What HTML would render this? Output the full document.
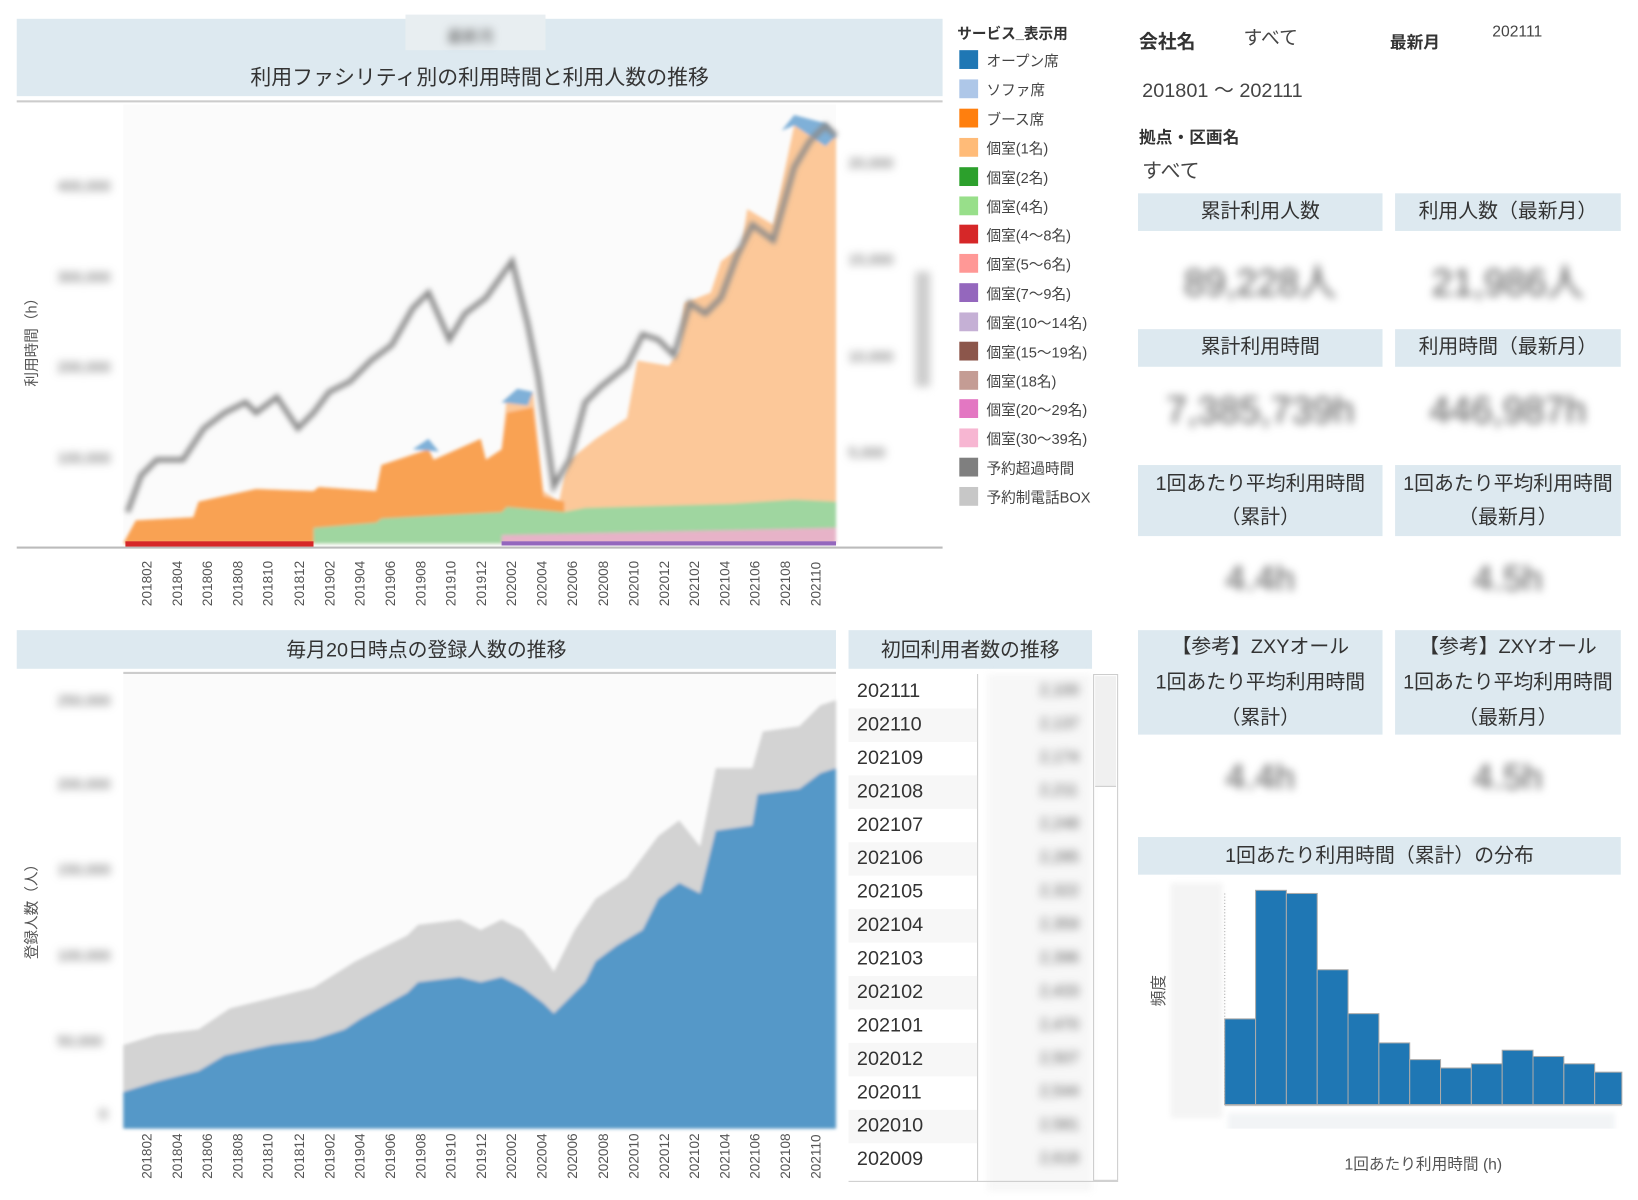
<!DOCTYPE html>
<html><head><meta charset="utf-8"><style>
html,body{margin:0;padding:0;background:#fff;width:1638px;height:1200px;overflow:hidden}
#w{position:absolute;left:0;top:0;width:1568px;height:1148px;transform:scale(1.045);transform-origin:0 0;font-family:"Liberation Sans","Noto Sans CJK JP",sans-serif;color:#333}
.a{position:absolute;white-space:nowrap}
.hb{position:absolute;background:#dde9f0;text-align:center;color:#333;font-size:19px}
.bl{filter:blur(4px);color:#555}
.lg{position:absolute;left:918px;font-size:14px;color:#444}
.lg i{position:absolute;left:0;top:0;width:18px;height:18px}
.lg span{position:absolute;left:26px;top:0;white-space:nowrap}
.xl{position:absolute;transform:rotate(-90deg);transform-origin:0 0;font-size:13px;color:#555}
.tr{position:absolute;left:812px;width:123px;height:32px;font-size:19px;line-height:32px;padding-left:8px;box-sizing:border-box}
</style></head><body><div id="w">

<div class="hb" style="left:16px;top:18px;width:886px;height:74px"></div>
<div class="a" style="left:388px;top:14px;width:134px;height:34px;background:#e8eef1"></div>
<div class="a bl" style="left:428px;top:24px;font-size:15px">最新月</div>
<div class="a" style="left:16px;top:58px;width:886px;text-align:center;font-size:20px">利用ファシリティ別の利用時間と利用人数の推移</div>
<div class="a" style="left:16px;top:96px;width:886px;height:2px;background:#ccc"></div>
<div class="a" style="left:16px;top:523px;width:886px;height:2px;background:#bbb"></div>
<div class="a" style="left:20px;top:370px;transform:rotate(-90deg);transform-origin:0 0;font-size:14px;color:#555">利用時間（h）</div>
<div class="a bl" style="left:55px;top:170px;font-size:14px">400,000</div>
<div class="a bl" style="left:55px;top:257px;font-size:14px">300,000</div>
<div class="a bl" style="left:55px;top:343px;font-size:14px">200,000</div>
<div class="a bl" style="left:55px;top:430px;font-size:14px">100,000</div>
<div class="a bl" style="left:812px;top:148px;font-size:14px">20,000</div>
<div class="a bl" style="left:812px;top:240px;font-size:14px">15,000</div>
<div class="a bl" style="left:812px;top:333px;font-size:14px">10,000</div>
<div class="a bl" style="left:812px;top:425px;font-size:14px">5,000</div>
<div class="a bl" style="left:876px;top:260px;width:14px;height:110px;background:#ccc"></div>

<svg class="a" style="left:0;top:0" width="910" height="1143">
<defs><filter id="b"><feGaussianBlur stdDeviation="2.5"/></filter><filter id="b2"><feGaussianBlur stdDeviation="1.5"/></filter></defs>
<rect x="118" y="100" width="682" height="422" fill="#fbfbfb"/>
<g filter="url(#b2)">
<polygon fill="#fcc899" points="118,520 130,498 185,495 190,480 245,468 300,470 305,466 360,470 365,445 410,430 415,440 460,420 465,440 480,430 485,380 510,375 520,470 535,480 540,455 545,440 570,420 600,400 610,345 640,350 650,335 655,290 680,280 690,250 710,235 715,200 740,215 760,120 790,140 800,130 800,520"/>
<polygon fill="#f9a253" points="118,520 130,498 185,495 190,480 245,468 300,470 305,466 360,470 365,445 410,430 415,440 460,420 465,440 480,430 485,395 510,390 520,475 540,480 540,520"/>
<polygon fill="#9fd6a0" points="300,520 300,505 360,500 365,496 480,490 485,485 540,490 560,486 700,482 760,478 800,480 800,520"/>
<polygon fill="#e7b3c8" points="480,520 480,512 800,505 800,520"/>
<polygon fill="#7fb0d8" points="480,385 495,372 510,375 505,388"/>
<polygon fill="#7fb0d8" points="395,430 410,420 420,432"/>
<polygon fill="#7fb0d8" points="748,125 760,110 790,118 800,130 790,140 760,120"/>
</g>
<polyline filter="url(#b)" fill="none" stroke="#8a8a8a" stroke-width="5" points="122,490 135,455 150,440 175,440 195,410 215,395 235,385 245,395 265,380 285,410 300,395 315,375 335,365 355,345 375,330 395,295 410,280 430,325 445,300 465,285 490,250 505,310 515,360 530,465 545,440 560,385 575,370 600,350 615,320 630,325 645,340 660,290 675,300 690,285 705,245 720,215 740,230 760,160 775,135 790,120 800,130"/>
<g fill="#d62728"><rect x="120" y="518" width="180" height="5"/></g>
<g fill="#9467bd"><rect x="480" y="518" width="320" height="4"/></g>
<rect x="118" y="645" width="682" height="435" fill="#fbfbfb"/>
<line x1="118" y1="644" x2="800" y2="644" stroke="#ccc" stroke-width="2"/>
<g filter="url(#b2)">
<polygon fill="#d3d3d3" points="118,1080 118,1000 150,990 190,985 220,965 260,955 300,945 340,920 390,895 400,885 440,880 460,890 480,880 500,890 520,915 530,930 550,890 570,860 600,840 630,800 650,785 670,810 685,735 720,735 730,700 765,695 785,675 800,670 800,1080"/>
<polygon fill="#5598c8" points="118,1080 118,1045 150,1035 190,1025 215,1010 260,1000 300,995 330,985 345,975 390,950 400,940 440,935 460,940 480,935 500,945 520,960 530,970 545,955 560,940 570,920 590,905 615,890 630,860 650,845 670,855 685,795 720,790 725,760 765,755 785,740 800,735 800,1080"/>
</g>
</svg>

<div class="a bl" style="left:55px;top:662px;font-size:14px">250,000</div>
<div class="a bl" style="left:55px;top:742px;font-size:14px">200,000</div>
<div class="a bl" style="left:55px;top:824px;font-size:14px">150,000</div>
<div class="a bl" style="left:55px;top:906px;font-size:14px">100,000</div>
<div class="a bl" style="left:55px;top:988px;font-size:14px">50,000</div>
<div class="a bl" style="left:95px;top:1058px;font-size:14px">0</div>
<div class="a" style="left:20px;top:918px;transform:rotate(-90deg);transform-origin:0 0;font-size:14px;color:#555">登録人数（人）</div>

<div class="a" style="left:916px;top:22px;font-size:14px;font-weight:bold;color:#333">サービス_表示用</div>
<div class="lg" style="top:48px"><i style="background:#1f77b4"></i><span>オープン席</span></div>
<div class="lg" style="top:76px"><i style="background:#aec7e8"></i><span>ソファ席</span></div>
<div class="lg" style="top:104px"><i style="background:#ff7f0e"></i><span>ブース席</span></div>
<div class="lg" style="top:132px"><i style="background:#ffbb78"></i><span>個室(1名)</span></div>
<div class="lg" style="top:160px"><i style="background:#2ca02c"></i><span>個室(2名)</span></div>
<div class="lg" style="top:188px"><i style="background:#98df8a"></i><span>個室(4名)</span></div>
<div class="lg" style="top:215px"><i style="background:#d62728"></i><span>個室(4〜8名)</span></div>
<div class="lg" style="top:243px"><i style="background:#ff9896"></i><span>個室(5〜6名)</span></div>
<div class="lg" style="top:271px"><i style="background:#9467bd"></i><span>個室(7〜9名)</span></div>
<div class="lg" style="top:299px"><i style="background:#c5b0d5"></i><span>個室(10〜14名)</span></div>
<div class="lg" style="top:327px"><i style="background:#8c564b"></i><span>個室(15〜19名)</span></div>
<div class="lg" style="top:355px"><i style="background:#c49c94"></i><span>個室(18名)</span></div>
<div class="lg" style="top:382px"><i style="background:#e377c2"></i><span>個室(20〜29名)</span></div>
<div class="lg" style="top:410px"><i style="background:#f7b6d2"></i><span>個室(30〜39名)</span></div>
<div class="lg" style="top:438px"><i style="background:#7f7f7f"></i><span>予約超過時間</span></div>
<div class="lg" style="top:466px"><i style="background:#c7c7c7"></i><span>予約制電話BOX</span></div>

<div class="a" style="left:1090px;top:26px;font-size:18px;font-weight:bold">会社名</div>
<div class="a" style="left:1190px;top:22px;font-size:18px;color:#444">すべて</div>
<div class="a" style="left:1330px;top:27px;font-size:16px;font-weight:bold">最新月</div>
<div class="a" style="left:1428px;top:22px;font-size:15px;color:#444">202111</div>
<div class="a" style="left:1093px;top:72px;font-size:19px;color:#444">201801 〜 202111</div>
<div class="a" style="left:1090px;top:118px;font-size:16px;font-weight:bold">拠点・区画名</div>
<div class="a" style="left:1093px;top:149px;font-size:19px;color:#444">すべて</div>

<div class="hb" style="left:1089px;top:185px;width:234px;height:36px;line-height:36px">累計利用人数</div>
<div class="hb" style="left:1335px;top:185px;width:216px;height:36px;line-height:36px">利用人数（最新月）</div>
<div class="a bl" style="left:1089px;top:242px;width:234px;text-align:center;font-size:36px">89,228人</div>
<div class="a bl" style="left:1335px;top:242px;width:216px;text-align:center;font-size:36px">21,986人</div>
<div class="hb" style="left:1089px;top:315px;width:234px;height:36px;line-height:36px">累計利用時間</div>
<div class="hb" style="left:1335px;top:315px;width:216px;height:36px;line-height:36px">利用時間（最新月）</div>
<div class="a bl" style="left:1089px;top:372px;width:234px;text-align:center;font-size:36px">7,385,739h</div>
<div class="a bl" style="left:1335px;top:372px;width:216px;text-align:center;font-size:36px">446,987h</div>
<div class="hb" style="left:1089px;top:445px;width:234px;height:68px;line-height:32px;padding-top:3px;box-sizing:border-box">1回あたり平均利用時間<br>（累計）</div>
<div class="hb" style="left:1335px;top:445px;width:216px;height:68px;line-height:32px;padding-top:3px;box-sizing:border-box">1回あたり平均利用時間<br>（最新月）</div>
<div class="a bl" style="left:1089px;top:535px;width:234px;text-align:center;font-size:34px">4.4h</div>
<div class="a bl" style="left:1335px;top:535px;width:216px;text-align:center;font-size:34px">4.5h</div>
<div class="hb" style="left:1089px;top:603px;width:234px;height:100px;line-height:34px;box-sizing:border-box">【参考】ZXYオール<br>1回あたり平均利用時間<br>（累計）</div>
<div class="hb" style="left:1335px;top:603px;width:216px;height:100px;line-height:34px;box-sizing:border-box">【参考】ZXYオール<br>1回あたり平均利用時間<br>（最新月）</div>
<div class="a bl" style="left:1089px;top:725px;width:234px;text-align:center;font-size:34px">4.4h</div>
<div class="a bl" style="left:1335px;top:725px;width:216px;text-align:center;font-size:34px">4.5h</div>

<div class="hb" style="left:1089px;top:801px;width:462px;height:36px;line-height:38px">1回あたり利用時間（累計）の分布</div>
<svg class="a" style="left:1100px;top:840px" width="460" height="240">
<rect x="20" y="5" width="50" height="225" fill="#f4f4f4" filter="url(#b)"/>
<line x1="72" y1="15" x2="72" y2="218" stroke="#aaa" stroke-dasharray="1,2"/>
<g fill="#1f77b4" stroke="#aaa" stroke-width="1">
<rect x="72" y="135" width="29.5" height="82"/>
<rect x="101.5" y="12" width="29.5" height="205"/>
<rect x="131" y="15" width="29.5" height="202"/>
<rect x="160.5" y="88" width="29.5" height="129"/>
<rect x="190" y="130" width="29.5" height="87"/>
<rect x="219.5" y="158" width="29.5" height="59"/>
<rect x="249" y="174" width="29.5" height="43"/>
<rect x="278.5" y="182" width="29.5" height="35"/>
<rect x="308" y="178" width="29.5" height="39"/>
<rect x="337.5" y="165" width="29.5" height="52"/>
<rect x="367" y="171" width="29.5" height="46"/>
<rect x="396.5" y="178" width="29.5" height="39"/>
<rect x="426" y="186" width="26" height="31"/>
</g>
<line x1="72" y1="218" x2="452" y2="218" stroke="#bbb"/>
<rect x="75" y="225" width="370" height="30" fill="#f2f4f6" filter="url(#b)"/>
</svg>
<div class="a" style="left:1098px;top:963px;transform:rotate(-90deg);transform-origin:0 0;font-size:15px;color:#555">頻度</div>
<div class="a" style="left:1172px;top:1103px;width:380px;text-align:center;font-size:15px;color:#555">1回あたり利用時間 (h)</div>

<div class="hb" style="left:16px;top:603px;width:784px;height:37px;line-height:39px">毎月20日時点の登録人数の推移</div>
<div class="hb" style="left:812px;top:603px;width:233px;height:37px;line-height:39px">初回利用者数の推移</div>
<div class="a" style="left:935px;top:645px;width:1px;height:485px;background:#ccc"></div>
<div class="a" style="left:945px;top:645px;width:100px;height:495px;background:#f7f7f7;filter:blur(3px)"></div>
<div class="a" style="left:1046px;top:645px;width:24px;height:485px;border:1px solid #ccc;box-sizing:border-box"></div>
<div class="a" style="left:1048px;top:647px;width:20px;height:105px;background:#f0f0f0;border-bottom:1px solid #ccc"></div>
<div class="a" style="left:812px;top:1130px;width:258px;height:1px;background:#ccc"></div>
</div>
<script>
var w=document.getElementById('w');
var labs=['201802','201804','201806','201808','201810','201812','201902','201904','201906','201908','201910','201912','202002','202004','202006','202008','202010','202012','202102','202104','202106','202108','202110'];
labs.forEach(function(l,i){
 var x=133+i*29.1;
 [580,1128].forEach(function(t){
  var d=document.createElement('div');d.className='xl';d.textContent=l;
  d.style.left=x+'px';d.style.top=t+'px';w.appendChild(d);
 });
});
var rows=['202111','202110','202109','202108','202107','202106','202105','202104','202103','202102','202101','202012','202011','202010','202009'];
rows.forEach(function(r,i){
 var d=document.createElement('div');d.className='tr';d.textContent=r;
 d.style.top=(646+i*32)+'px';if(i%2==1)d.style.background='#f7f7f7';w.appendChild(d);
 var v=document.createElement('div');v.className='a bl';v.style.left='995px';v.style.top=(652+i*32)+'px';v.style.fontSize='15px';v.textContent='2,'+(100+i*37);w.appendChild(v);
});
</script>
</body></html>
